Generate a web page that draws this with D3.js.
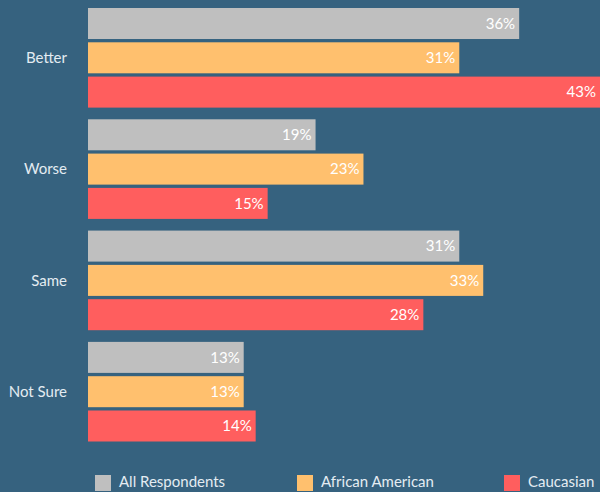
<!DOCTYPE html>
<html>
<head>
<meta charset="utf-8">
<script src="https://cdn.jsdelivr.net/npm/d3@7.9.0/dist/d3.min.js"></script>
<style>
  html, body { margin: 0; padding: 0; background: #36627f; overflow: hidden; }
  svg { display: block; font-family: "Source Sans Pro", Lato, "Noto Sans", sans-serif; }
</style>
</head>
<body>
<svg id="chart" width="600" height="492"></svg>
<script>
const categories = ['Better', 'Worse', 'Same', 'Not Sure'];
const seriesNames = ['All Respondents', 'African American', 'Caucasian'];
const allRespondents = [36, 19, 31, 13];
const africanAmerican = [31, 23, 33, 13];
const caucasian = [43, 15, 28, 14];
const colors = ['#bfbfbf', '#ffc06e', '#ff5e5e'];

const seriesValues = [allRespondents, africanAmerican, caucasian];

const width = 600;
const left = 88;

const svg = d3.select('#chart');

const x = d3.scaleLinear().domain([0, 43]).range([left, 603]);

const y = d3.scaleBand()
  .domain(categories)
  .range([8, 441.5])
  .paddingInner(0.105)
  .paddingOuter(0);

const ySub = d3.scaleBand()
  .domain(seriesNames)
  .range([0, y.bandwidth()])
  .paddingInner(0.096);

const groups = svg.append('g')
  .selectAll('g')
  .data(categories)
  .join('g')
  .attr('transform', (d) => `translate(0,${y(d)})`);

groups.selectAll('rect')
  .data((d, i) => seriesNames.map((s, j) => ({ s, j, v: seriesValues[j][i] })))
  .join('rect')
  .attr('x', x(0))
  .attr('y', (d) => ySub(d.s))
  .attr('width', (d) => x(d.v) - x(0))
  .attr('height', ySub.bandwidth())
  .attr('fill', (d) => colors[d.j]);

groups.selectAll('text.val')
  .data((d, i) => seriesNames.map((s, j) => ({ s, j, v: seriesValues[j][i] })))
  .join('text')
  .attr('class', 'val')
  .attr('x', (d) => Math.min(x(d.v), width) - 4)
  .attr('y', (d) => ySub(d.s) + ySub.bandwidth() / 2)
  .attr('dy', '0.35em')
  .attr('text-anchor', 'end')
  .attr('fill', '#ffffff')
  .style('font-size', '15px')
  .text((d) => d.v + '%');

// category labels
svg.append('g')
  .selectAll('text')
  .data(categories)
  .join('text')
  .attr('x', 67)
  .attr('y', (d) => y(d) + y.bandwidth() / 2)
  .attr('dy', '0.35em')
  .attr('text-anchor', 'end')
  .attr('fill', '#e4ecf2')
  .style('font-size', '15px')
  .text((d) => d);

// legend
const legendX = [95, 297, 504];
const legend = svg.append('g')
  .selectAll('g')
  .data(seriesNames)
  .join('g')
  .attr('transform', (d, i) => `translate(${legendX[i]},475)`);

legend.append('rect')
  .attr('width', 16)
  .attr('height', 16)
  .attr('fill', (d, i) => colors[i]);

legend.append('text')
  .attr('x', 24)
  .attr('y', 12)
  .attr('fill', '#e4ecf2')
  .style('font-size', '15px')
  .text((d) => d);
</script>
</body>
</html>
